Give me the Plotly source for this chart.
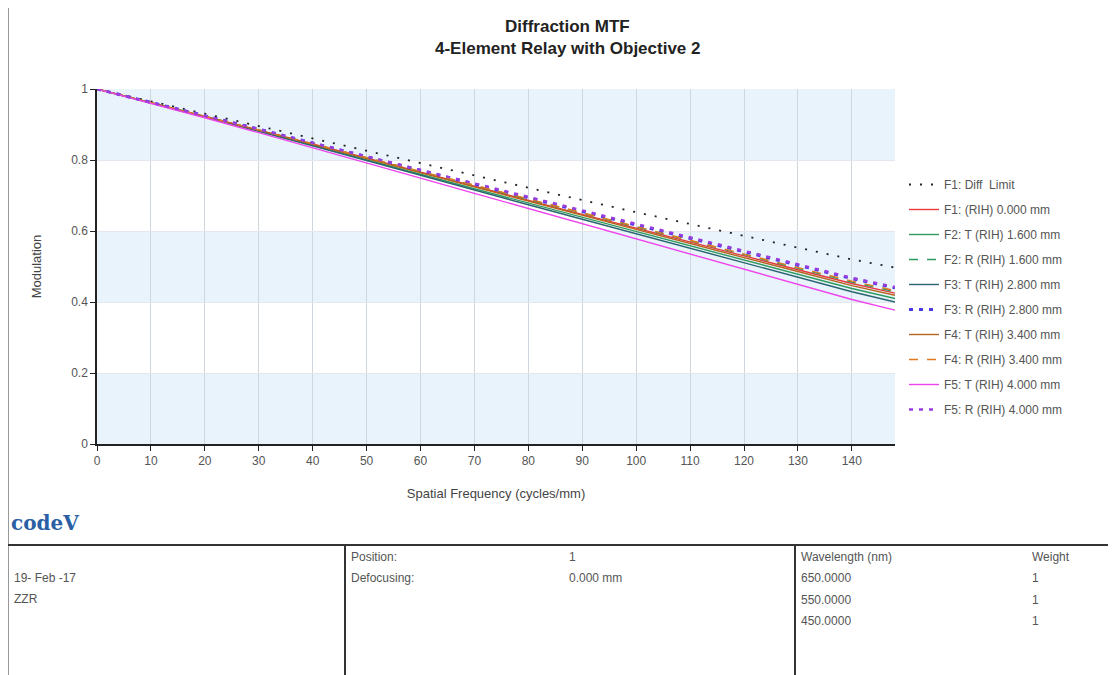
import plotly.graph_objects as go

OFF = 8  # default page body margin
W, H = 1116 - OFF, 675 - OFF

freq = [0, 10, 20, 30, 40, 50, 60, 70, 80, 90, 100, 110, 120, 130, 140, 148]

diff_limit = [1, 0.965, 0.930, 0.895, 0.860, 0.825, 0.790, 0.755, 0.721, 0.687, 0.653, 0.619, 0.586, 0.553, 0.520, 0.497]
f1_rih = [1, 0.962, 0.923, 0.884, 0.845, 0.805, 0.765, 0.726, 0.686, 0.647, 0.608, 0.568, 0.530, 0.491, 0.452, 0.425]
f2_t = [1, 0.962, 0.922, 0.882, 0.842, 0.801, 0.760, 0.719, 0.679, 0.639, 0.598, 0.558, 0.518, 0.478, 0.438, 0.410]
f2_r = [1, 0.962, 0.924, 0.885, 0.846, 0.806, 0.767, 0.727, 0.688, 0.649, 0.610, 0.571, 0.533, 0.494, 0.456, 0.429]
f3_t = [1, 0.961, 0.921, 0.881, 0.840, 0.798, 0.757, 0.715, 0.674, 0.633, 0.592, 0.551, 0.510, 0.469, 0.429, 0.400]
f3_r = [1, 0.963, 0.925, 0.887, 0.848, 0.809, 0.771, 0.732, 0.694, 0.655, 0.617, 0.579, 0.541, 0.504, 0.466, 0.440]
f4_t = [1, 0.962, 0.923, 0.884, 0.844, 0.804, 0.763, 0.723, 0.684, 0.644, 0.604, 0.564, 0.525, 0.486, 0.446, 0.419]
f4_r = [1, 0.962, 0.924, 0.885, 0.846, 0.807, 0.768, 0.728, 0.690, 0.651, 0.612, 0.573, 0.535, 0.497, 0.459, 0.432]
f5_t = [1, 0.960, 0.919, 0.877, 0.835, 0.792, 0.749, 0.706, 0.663, 0.620, 0.578, 0.534, 0.492, 0.450, 0.407, 0.377]
f5_r = [1, 0.963, 0.925, 0.887, 0.848, 0.810, 0.771, 0.732, 0.695, 0.656, 0.618, 0.580, 0.543, 0.506, 0.468, 0.442]

names = ["F1: Diff  Limit", "F1: (RIH) 0.000 mm", "F2: T (RIH) 1.600 mm", "F2: R (RIH) 1.600 mm",
         "F3: T (RIH) 2.800 mm", "F3: R (RIH) 2.800 mm", "F4: T (RIH) 3.400 mm", "F4: R (RIH) 3.400 mm",
         "F5: T (RIH) 4.000 mm", "F5: R (RIH) 4.000 mm"]
series = [diff_limit, f1_rih, f2_t, f2_r, f3_t, f3_r, f4_t, f4_r, f5_t, f5_r]
colors = ["#222222", "#e8383d", "#2e9b5e", "#2e9b5e", "#2a6470", "#4a3ce0",
          "#b5651d", "#e07a20", "#ee44ee", "#9a3ce0"]
dashes = ["2px,9px", "solid", "solid", "dash", "solid", "4px,6px", "solid", "dash", "solid", "4px,6px"]
widths = [1.8, 1.4, 1.4, 1.4, 1.4, 3, 1.4, 1.4, 1.4, 2.5]

# pixel geometry of the plot area (in screenshot pixels)
X0, X1, Y0, Y1 = 97, 895, 89, 444

fig = go.Figure()
for i, (n, s) in enumerate(zip(names, series)):
    fig.add_trace(go.Scatter(x=freq, y=s, mode="lines", name=n, legendgroup=f"g{i}",
                             line=dict(color=colors[i], dash=dashes[i], width=widths[i])))

def px(x):
    return (x - OFF) / W

def py(y):
    return 1 - (y - OFF) / H

shapes = []
# background bands
for lo, hi in [(0, 0.2), (0.4, 0.6), (0.8, 1.0)]:
    shapes.append(dict(type="rect", xref="x domain", yref="y", x0=0, x1=1, y0=lo, y1=hi,
                       fillcolor="#e9f3fb", line=dict(width=0), layer="below"))
# frame lines
line_style = dict(color="#333333", width=2)
shapes.append(dict(type="line", xref="paper", yref="paper", x0=px(8.5), x1=px(8.5), y0=py(8), y1=py(675),
                   line=dict(color="#999999", width=1)))
shapes.append(dict(type="line", xref="paper", yref="paper", x0=px(8), x1=px(1116), y0=py(545), y1=py(545),
                   line=line_style))
shapes.append(dict(type="line", xref="paper", yref="paper", x0=px(345), x1=px(345), y0=py(545), y1=py(675),
                   line=line_style))
shapes.append(dict(type="line", xref="paper", yref="paper", x0=px(795), x1=px(795), y0=py(545), y1=py(675),
                   line=line_style))

ann = []
tfont = dict(family="Liberation Sans, Arial", size=12, color="#555555")
def txt(x, y, s, font=tfont, xanchor="left"):
    ann.append(dict(x=px(x), y=py(y), xref="paper", yref="paper", text=s, showarrow=False,
                    xanchor=xanchor, yanchor="middle", font=font))

title_font = dict(family="Liberation Sans, Arial", size=17, color="#222222")
txt(567, 26, "<b>Diffraction MTF</b>", title_font, "center")
txt(567, 48, "<b>4-Element Relay with Objective 2</b>", title_font, "center")

txt(9, 523, "<b>code</b><b>V</b>", dict(family="DejaVu Serif", size=20, color="#2a5fa5"))

txt(12, 578, "19- Feb -17")
txt(12, 599, "ZZR")
txt(349, 557, "Position:")
txt(349, 578, "Defocusing:")
txt(567, 557, "1")
txt(567, 578, "0.000 mm")
txt(799, 557, "Wavelength (nm)")
txt(1030, 557, "Weight")
txt(799, 578, "650.0000")
txt(799, 600, "550.0000")
txt(799, 621, "450.0000")
txt(1030, 578, "1")
txt(1030, 600, "1")
txt(1030, 621, "1")

axis_font = dict(family="Liberation Sans, Arial", size=12, color="#555555")
fig.update_layout(
    template="none",
    width=W, height=H,
    margin=dict(l=0, r=0, t=0, b=0),
    paper_bgcolor="white",
    plot_bgcolor="white",
    showlegend=True,
    legend=dict(x=px(904), y=py(170), xanchor="left", yanchor="top",
                font=dict(family="Liberation Sans, Arial", size=12, color="#555555"),
                tracegroupgap=6, itemwidth=30, bgcolor="rgba(0,0,0,0)"),
    xaxis=dict(domain=[px(X0), px(X1)], range=[0, 148], tickvals=list(range(0, 150, 10)),
               showgrid=True, gridcolor="#cfd6dd", gridwidth=1, zeroline=False,
               showline=True, linecolor="#222222", linewidth=1.5, ticks="outside", ticklen=5,
               tickcolor="#222222", tickfont=axis_font, automargin=False,
               title=dict(text="Spatial Frequency (cycles/mm)", font=dict(family="Liberation Sans, Arial", size=13, color="#444444"), standoff=22)),
    yaxis=dict(domain=[py(Y1), py(Y0)], range=[0, 1], tickvals=[0, 0.2, 0.4, 0.6, 0.8, 1],
               ticktext=["0", "0.2", "0.4", "0.6", "0.8", "1"],
               showgrid=True, gridcolor="#e3e8ee", gridwidth=1, zeroline=False,
               showline=True, linecolor="#222222", linewidth=1.5, ticks="outside", ticklen=5,
               tickcolor="#222222", tickfont=axis_font, automargin=False,
               title=dict(text="Modulation", font=dict(family="Liberation Sans, Arial", size=13, color="#444444"), standoff=27)),
    shapes=shapes,
    annotations=ann,
)

fig.write_html("out.html")
